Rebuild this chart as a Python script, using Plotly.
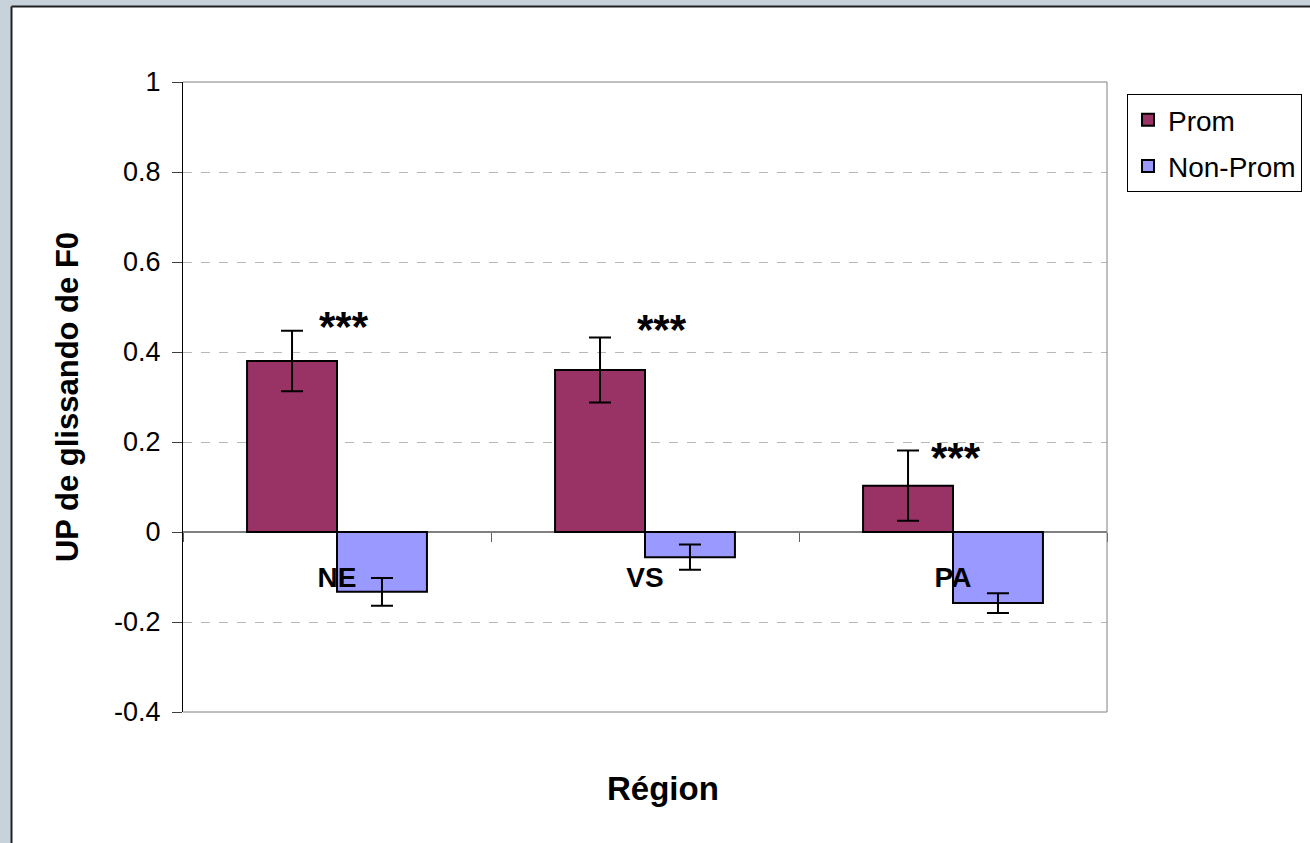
import plotly.graph_objects as go

# ---- data ----
regions = ["NE", "VS", "PA"]
prom = [0.38, 0.36, 0.103]
prom_err = [0.067, 0.072, 0.078]
nonprom = [-0.133, -0.056, -0.158]
nonprom_err = [0.031, 0.028, 0.022]
series_names = ["Prom", "Non-Prom"]
sig_labels = ["***", "***", "***"]
y_ticks = [1, 0.8, 0.6, 0.4, 0.2, 0, -0.2, -0.4]
y_ticktext = ["1", "0.8", "0.6", "0.4", "0.2", "0", "-0.2", "-0.4"]

# ---- layout constants ----
W, H = 1310, 843
ML, MR, MT, MB = 183, 203, 82, 131
PW, PH = W - ML - MR, H - MT - MB
YMIN, YMAX = -0.4, 1.0
FONT = "Arial, Liberation Sans, sans-serif"


def px_x(px):
    return (px - ML) / PW


def px_y(py):
    return (H - MB - py) / PH


fig = go.Figure()
fig.add_trace(go.Bar(
    x=regions, y=prom, name=series_names[0],
    marker=dict(color="#993366", line=dict(color="black", width=2)),
    error_y=dict(type="data", array=prom_err, color="black", thickness=2, width=11),
    legendgroup="a",
))
fig.add_trace(go.Bar(
    x=regions, y=nonprom, name=series_names[1],
    marker=dict(color="#9999FF", line=dict(color="black", width=2)),
    error_y=dict(type="data", array=nonprom_err, color="black", thickness=2, width=11),
    legendgroup="b",
))

# significance stars
xsh = [7, 17, 3]
ysh = [4, 8, -7]
for i, r in enumerate(regions):
    fig.add_annotation(
        x=r, y=prom[i] + prom_err[i], text=sig_labels[i], showarrow=False,
        xshift=xsh[i], yshift=ysh[i], yanchor="middle",
        font=dict(family=FONT, size=42, color="black", weight="bold"),
    )

# frame decorations
grey = "rgb(200,210,218)"
shapes = [
    dict(type="rect", xref="paper", yref="paper", x0=px_x(0), x1=px_x(11), y0=px_y(H), y1=px_y(0),
         fillcolor=grey, line=dict(width=0)),
    dict(type="rect", xref="paper", yref="paper", x0=px_x(0), x1=px_x(W), y0=px_y(6), y1=px_y(0),
         fillcolor=grey, line=dict(width=0)),
    dict(type="line", xref="paper", yref="paper", x0=px_x(11.5), x1=px_x(11.5), y0=px_y(H), y1=px_y(6.5),
         line=dict(color="#202020", width=2)),
    dict(type="line", xref="paper", yref="paper", x0=px_x(11.5), x1=px_x(W), y0=px_y(6.5), y1=px_y(6.5),
         line=dict(color="#202020", width=2)),
    # plot area border (top, right, bottom)
    dict(type="line", xref="paper", yref="paper", x0=0, x1=1, y0=1, y1=1, line=dict(color="#808080", width=1)),
    dict(type="line", xref="paper", yref="paper", x0=1, x1=1, y0=0, y1=1, line=dict(color="#808080", width=1)),
    dict(type="line", xref="paper", yref="paper", x0=0, x1=1, y0=0, y1=0, line=dict(color="#808080", width=1)),
]

fig.update_layout(
    width=W, height=H,
    margin=dict(l=ML, r=MR, t=MT, b=MB, autoexpand=False),
    paper_bgcolor="white", plot_bgcolor="white",
    font=dict(family=FONT, color="black"),
    barmode="group", bargap=0.416, bargroupgap=0,
    shapes=shapes,
    showlegend=True,
    legend=dict(
        x=px_x(1127), y=px_y(94), xanchor="left", yanchor="top",
        bordercolor="black", borderwidth=1, bgcolor="white",
        font=dict(family=FONT, size=28, color="black"),
        traceorder="grouped", tracegroupgap=7,
    ),
    xaxis=dict(
        type="category", anchor="free", position=(0 - YMIN) / (YMAX - YMIN),
        tickson="boundaries", ticks="outside", ticklen=9, tickcolor="#606060",
        showline=False, showgrid=False, zeroline=False,
        tickfont=dict(family=FONT, size=28, color="black", weight="bold"),
        ticklabelstandoff=26,
        range=[-0.5, 2.5],
    ),
    yaxis=dict(
        range=[YMIN, YMAX], tickmode="array", tickvals=y_ticks, ticktext=y_ticktext,
        ticks="outside", ticklen=10, tickcolor="#404040",
        showline=True, linecolor="black", linewidth=1,
        showgrid=True, gridcolor="#b8b8b8", griddash="dash", gridwidth=1,
        zeroline=True, zerolinecolor="#808080", zerolinewidth=2,
        tickfont=dict(family=FONT, size=27, color="black"),
        ticklabelstandoff=6,
        title=dict(text="UP de glissando de F0", standoff=26,
                   font=dict(family=FONT, size=31, color="black", weight="bold")),
    ),
)

fig.add_annotation(
    xref="paper", yref="paper", x=px_x(663), y=px_y(788), text="Région", showarrow=False,
    xanchor="center", yanchor="middle",
    font=dict(family=FONT, size=33, color="black", weight="bold"),
)

fig.write_html("out.html", config={"displayModeBar": False},
               post_script="document.body.style.margin='0px';")
